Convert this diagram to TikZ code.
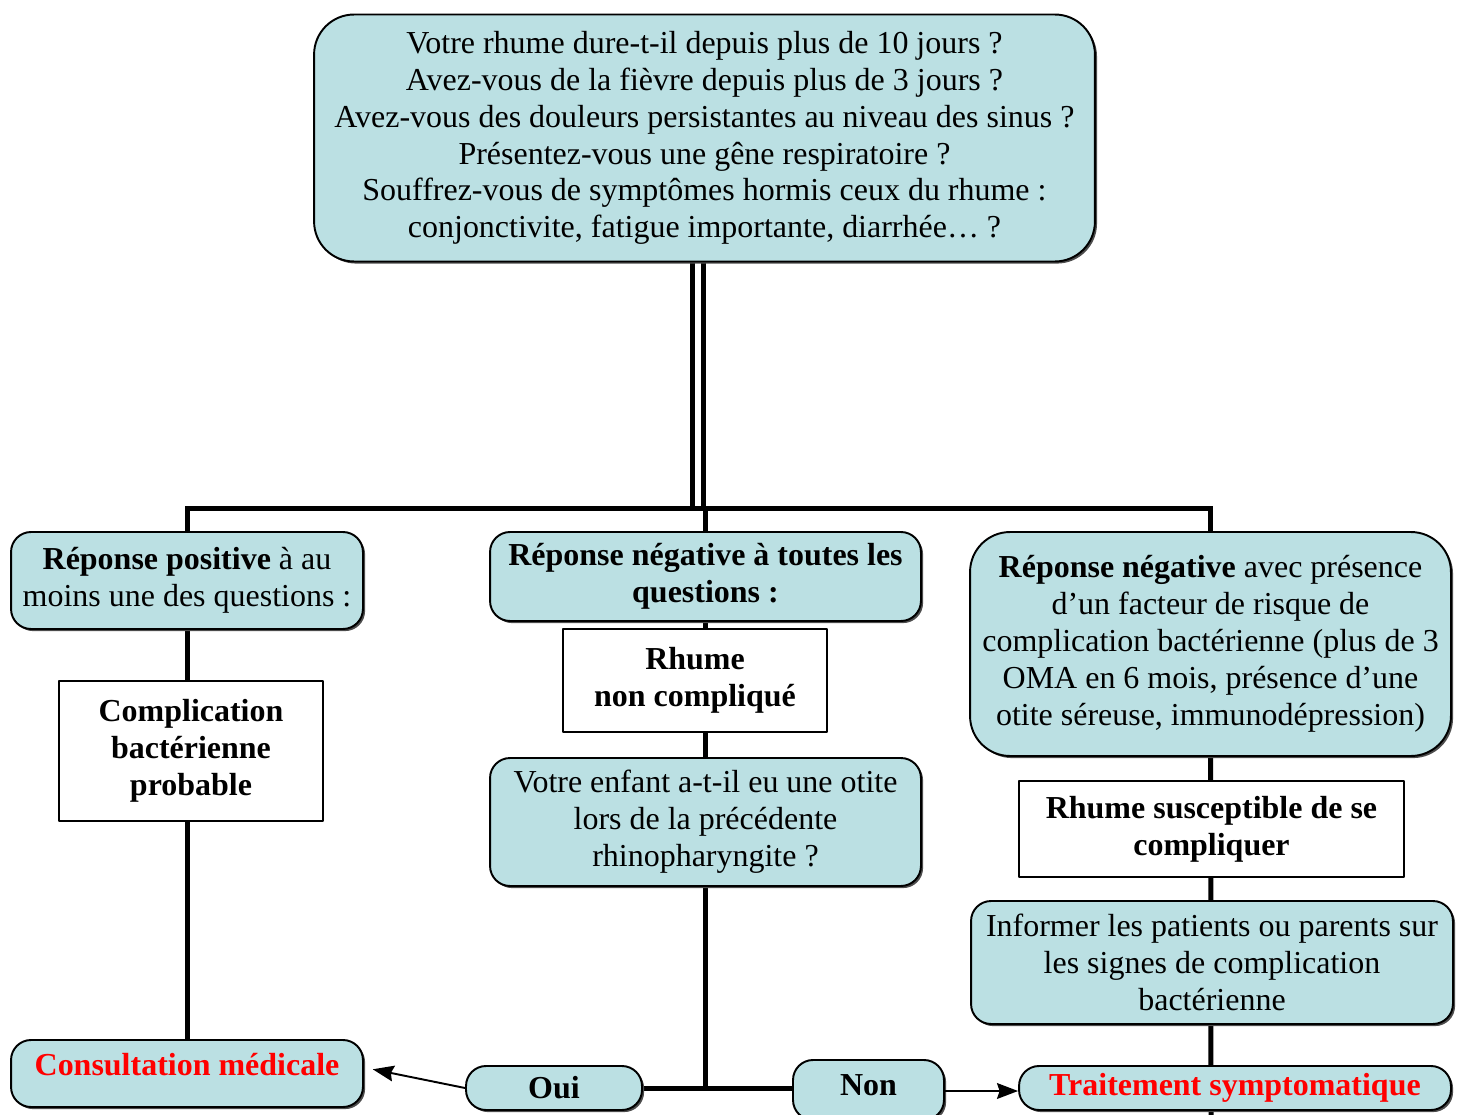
\documentclass[tikz,border=0pt]{standalone}
\usepackage{fontspec}
\setmainfont{Liberation Serif}
\usetikzlibrary{arrows.meta,backgrounds,shadows}
\definecolor{boxteal}{RGB}{187,224,227}
\begin{document}
\begin{tikzpicture}[x=.02cm,y=-.02cm,>={Stealth[length=12pt,width=9pt,inset=1.5pt]},
    font=\fontsize{18.2}{21}\selectfont, line join=round,
    qbox/.style={draw,line width=1.1pt,fill=boxteal,rounded corners=.4cm,align=center,inner sep=0pt,
        general shadow={fill=black!70,shadow xshift=1.2pt,shadow yshift=-1.2pt}},
    wbox/.style={draw,line width=1.1pt,fill=white,align=center,inner sep=0pt},
    link/.style={line width=.1cm},
    tip/.style={line width=1.1pt,->}]
    \useasboundingbox (0,0) rectangle (1461,1115);
    % question de depart
    \node[qbox,rounded corners=.8cm,minimum width=15.62cm,minimum height=4.94cm] (quest) at (704.5,138)
        {Votre rhume dure-t-il depuis plus de 10 jours ?\\
         Avez-vous de la fièvre depuis plus de 3 jours ?\\
         Avez-vous des douleurs persistantes au niveau des sinus ?\\
         Présentez-vous une gêne respiratoire ?\\
         Souffrez-vous de symptômes hormis ceux du rhume :\\
         conjonctivite, fatigue importante, diarrhée… ?};
    % les trois reponses
    \node[qbox,minimum width=7.04cm,minimum height=1.94cm] (pos) at (187,580.5)
        {\textbf{Réponse positive} à au\\ moins une des questions :};
    \node[qbox,minimum width=8.62cm,minimum height=1.78cm] (neg) at (705.5,576.5)
        {\textbf{Réponse négative à toutes les}\\ \textbf{questions :}};
    \node[qbox,rounded corners=.8cm,minimum width=9.62cm,minimum height=4.48cm] (risk) at (1210.5,644)
        {\textbf{Réponse négative} avec présence\\ d’un facteur de risque de\\
         complication bactérienne (plus de 3\\ OMA en 6 mois, présence d’une\\
         otite séreuse, immunodépression)};
    % diagnostics
    \node[wbox,minimum width=5.28cm,minimum height=2.8cm] (bact) at (191,751)
        {\textbf{Complication}\\ \textbf{bactérienne}\\ \textbf{probable}};
    \node[wbox,minimum width=5.28cm,minimum height=2.06cm] (simple) at (695,680.5)
        {\textbf{Rhume}\\ \textbf{non compliqué}};
    \node[wbox,minimum width=7.7cm,minimum height=1.92cm] (suscep) at (1211.5,829)
        {\textbf{Rhume susceptible de se}\\ \textbf{compliquer}};
    \node[qbox,minimum width=8.62cm,minimum height=2.56cm] (otite) at (705.5,822)
        {Votre enfant a-t-il eu une otite\\ lors de la précédente\\ rhinopharyngite ?};
    \node[qbox,minimum width=9.64cm,minimum height=2.46cm] (info) at (1212,962.5)
        {Informer les patients ou parents sur\\ les signes de complication\\ bactérienne};
    % conduites a tenir
    \node[qbox,minimum width=7.04cm,text height=.7cm,text depth=.64cm,text=red] (consult) at (187,1073.5)
        {\textbf{Consultation médicale}};
    \node[qbox,minimum width=3.52cm,minimum height=.88cm] (oui) at (554,1088) {\textbf{Oui}};
    \node[qbox,minimum width=3.02cm,text height=.7cm,text depth=.5cm] (non) at (868.5,1090) {\textbf{Non}};
    \node[qbox,minimum width=8.64cm,minimum height=.88cm,text=red] (trait) at (1235,1088)
        {\textbf{Traitement symptomatique}};
    \coordinate (hub) at (698,508);
    \coordinate (bas) at (1211,1115);
    \begin{scope}[on background layer]
        \draw[link,double,double distance=.12cm] (quest.south -| hub) -- (hub);
        \draw[link] (pos.center) -- (pos.center |- hub) -- (risk.center |- hub) -- (risk.center);
        \draw[link] (pos.center) -- (consult.center);
        \draw[link] (neg.center |- hub) -- (neg.center |- oui.east);
        \draw[link] (risk.center) -- (bas);
        \draw[link] (oui.east) -- (non.west |- oui.east);
    \end{scope}
    \draw[tip,shorten >=.18cm] (oui.west) -- ([yshift=.12cm]consult.east);
    \draw[tip] (non.east |- 0,1091) -- (trait.west |- 0,1091);
\end{tikzpicture}
\end{document}
